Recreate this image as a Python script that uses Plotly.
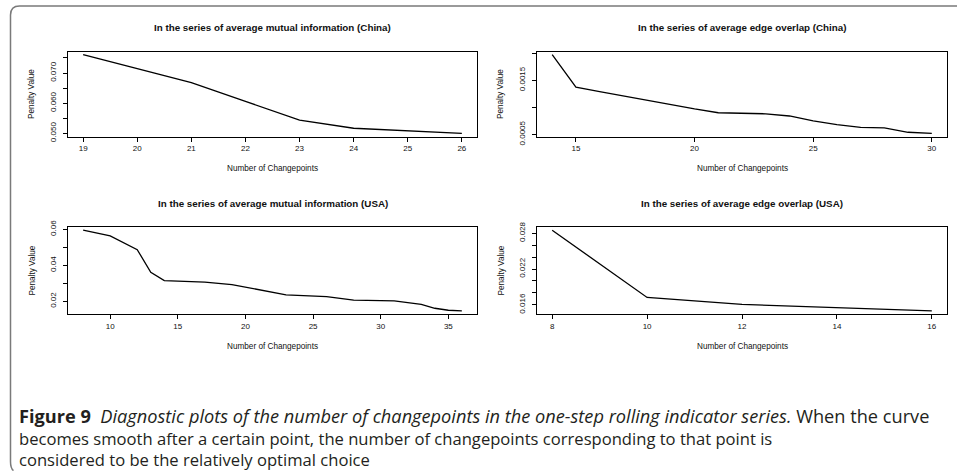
import plotly.graph_objects as go

W, H = 957, 471

# ---- data -------------------------------------------------------------
cn_mi_k = [19, 20, 21, 22, 23, 24, 25, 26]
cn_mi_pen = [0.0761, 0.0715, 0.0668, 0.0606, 0.0544, 0.0517, 0.0508, 0.0500]

cn_eo_k = [14, 15, 16, 17, 18, 19, 20, 21, 23, 24, 25, 26, 27, 28, 29, 30]
cn_eo_pen = [0.00197, 0.00137, 0.00129, 0.00121, 0.00112, 0.00104, 0.00097,
             0.00090, 0.00088, 0.00084, 0.00075, 0.00068, 0.00063, 0.00062,
             0.00054, 0.00052]

us_mi_k = [8, 10, 12, 13, 14, 17, 19, 23, 26, 28, 31, 33, 34, 35, 36]
us_mi_pen = [0.0595, 0.0563, 0.0487, 0.0361, 0.0315, 0.0306, 0.0293, 0.0235,
             0.0226, 0.0206, 0.0202, 0.0183, 0.0161, 0.0150, 0.0147]

us_eo_k = [8, 10, 12, 14, 16]
us_eo_pen = [0.0285, 0.01723, 0.01606, 0.0155, 0.0150]

titles = [
    "In the series of average mutual information (China)",
    "In the series of average edge overlap (China)",
    "In the series of average mutual information (USA)",
    "In the series of average edge overlap (USA)",
]

x_ticks = [
    [19, 20, 21, 22, 23, 24, 25, 26],
    [15, 20, 25, 30],
    [10, 15, 20, 25, 30, 35],
    [8, 10, 12, 14, 16],
]
y_tickvals = [
    [0.050, 0.055, 0.060, 0.065, 0.070, 0.075],
    [0.0005, 0.0010, 0.0015, 0.0020],
    [0.02, 0.03, 0.04, 0.05, 0.06],
    [0.016, 0.018, 0.020, 0.022, 0.024, 0.026, 0.028],
]
y_ticktext = [
    ["0.050", "", "0.060", "", "0.070", ""],
    ["0.0005", "", "0.0015", ""],
    ["0.02", "", "0.04", "", "0.06"],
    ["0.016", "", "", "0.022", "", "", "0.028"],
]

x_label = "Number of Changepoints"
y_label = "Penalty Value"

caption_lines = [
    '<span style="font-size:18.2px"><b>Figure 9</b>  <i>Diagnostic plots of the '
    "number of changepoints in the one-step rolling indicator series.</i> "
    "When the curve</span>",
    "becomes smooth after a certain point, the number of changepoints "
    "corresponding to that point is",
    "considered to be the relatively optimal choice",
]

series = [(cn_mi_k, cn_mi_pen), (cn_eo_k, cn_eo_pen),
          (us_mi_k, us_mi_pen), (us_eo_k, us_eo_pen)]

# ---- panel boxes in pixels (left, right, top, bottom) -----------------
boxes = [
    (68, 477, 51.5, 136.5),
    (537, 947, 51.5, 136.5),
    (68, 477, 227, 314),
    (537, 947, 227, 314),
]


def px(x):
    return x / W


def py(y):
    return 1 - y / H


def padded(vals, frac=0.04):
    lo, hi = min(vals), max(vals)
    d = (hi - lo) * frac
    return [lo - d, hi + d]


SANS = "Liberation Sans, Arial, sans-serif"
fig = go.Figure()
tick_font = dict(family=SANS, size=8, color="#111")
lab_font = dict(family=SANS, size=8.2, color="#111")

for i, ((k, pen), (l, r, t, b)) in enumerate(zip(series, boxes)):
    n = "" if i == 0 else str(i + 1)
    fig.add_trace(go.Scatter(x=k, y=pen, mode="lines",
                             line=dict(color="black", width=1.3),
                             xaxis="x" + n, yaxis="y" + n,
                             showlegend=False, hoverinfo="skip"))
    common = dict(showline=True, mirror=True, linecolor="black", linewidth=1.2,
                  ticks="outside", ticklen=4, tickwidth=1, tickcolor="black",
                  showgrid=False, zeroline=False, tickfont=tick_font,
                  fixedrange=True, automargin=False)
    fig.update_layout({
        "xaxis" + n: dict(domain=[px(l), px(r)], anchor="y" + n,
                          range=padded(k), tickvals=x_ticks[i], **common),
        "yaxis" + n: dict(domain=[py(b), py(t)], anchor="x" + n,
                          range=padded(pen), tickvals=y_tickvals[i],
                          ticktext=y_ticktext[i], tickangle=-90,
                          ticklabelstandoff=4, **common),
    })
    cx = (l + r) / 2
    cy = (t + b) / 2
    centred = dict(xref="paper", yref="paper", xanchor="center",
                   yanchor="middle", showarrow=False)
    # panel title
    fig.add_annotation(x=px(cx), y=py(t - 23.5), text="<b>" + titles[i] + "</b>",
                       font=dict(family=SANS, size=9.8, color="#111"), **centred)
    # x axis label
    fig.add_annotation(x=px(cx), y=py(b + 32.5), text=x_label, font=lab_font,
                       **centred)
    # y axis label
    fig.add_annotation(x=px(l - 36), y=py(cy), text=y_label, textangle=-90,
                       font=lab_font, **centred)

# caption
fig.add_annotation(x=px(18), y=py(472), xref="paper", yref="paper",
                   xanchor="left", yanchor="bottom", align="left", borderpad=0,
                   text="<br>".join(caption_lines), showarrow=False,
                   font=dict(family="Open Sans, sans-serif", size=16.6,
                             color="#231f20"))

# rounded frame around the figure (open at right and bottom edge)
fl, ft, fb, rad = 10.5, 6, 470.5, 9
path = (f"M 1 {py(ft)} L {px(fl + rad)} {py(ft)} "
        f"Q {px(fl)} {py(ft)} {px(fl)} {py(ft + rad)} "
        f"L {px(fl)} {py(fb - rad)} Q {px(fl)} {py(fb - 2)} {px(fl + 3)} {py(fb)}")
fig.add_shape(type="path", path=path, xref="paper", yref="paper",
              line=dict(color="#7a7a7a", width=1.5))

fig.update_layout(width=W, height=H,
                  margin=dict(l=0, r=0, t=0, b=0, pad=0, autoexpand=False),
                  paper_bgcolor="white", plot_bgcolor="white")

fig.write_html("out.html", config={"displayModeBar": False},
               post_script="document.body.style.margin='0';")
